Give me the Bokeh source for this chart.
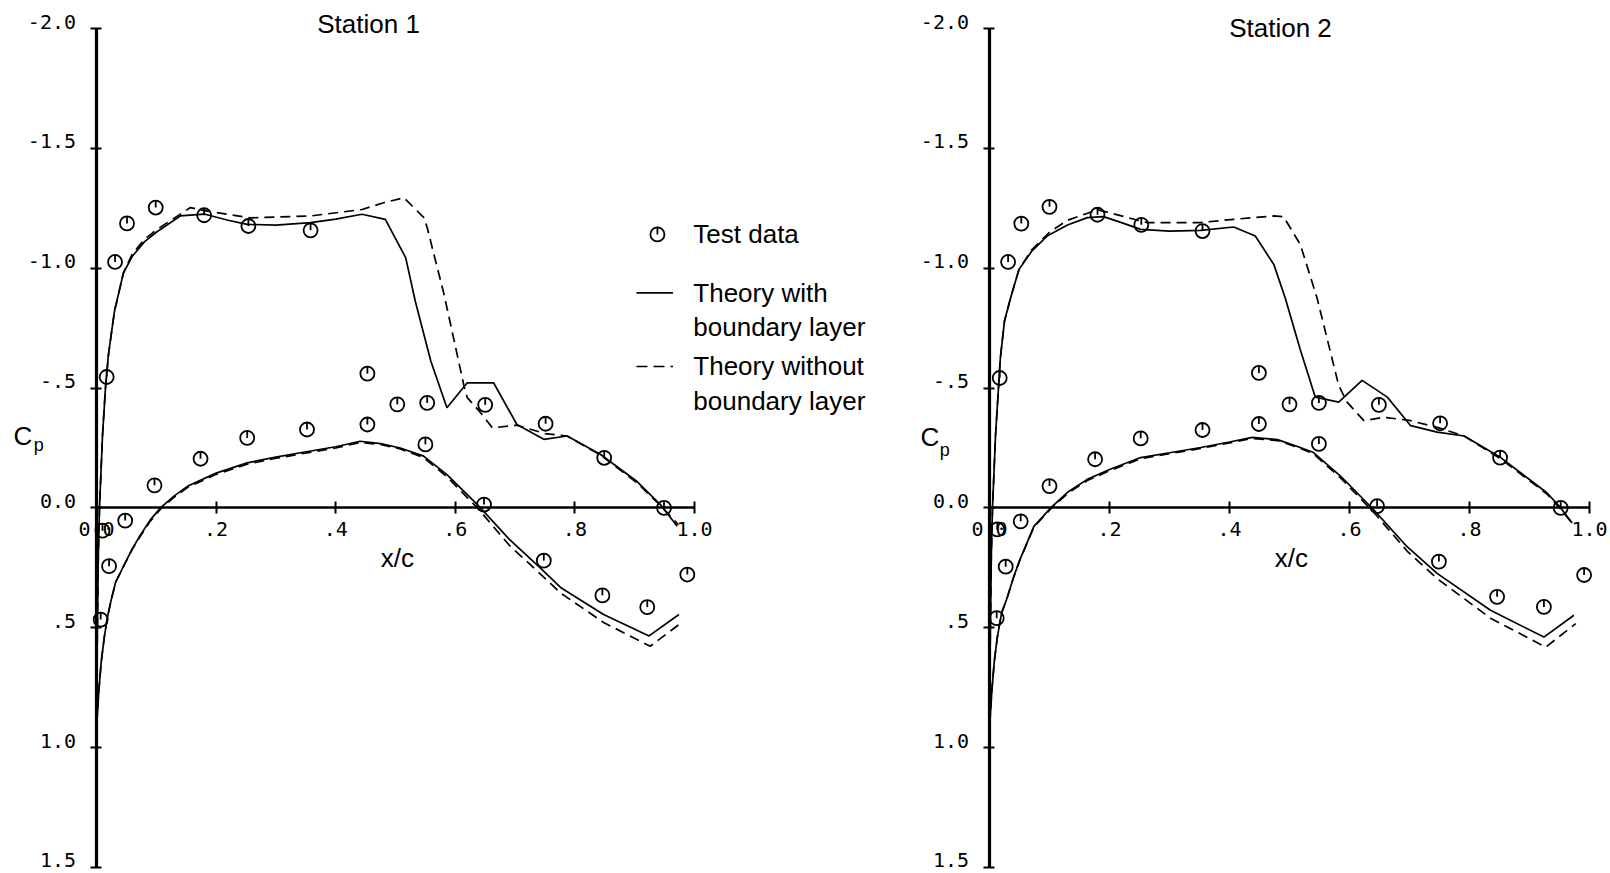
import numpy as np
from bokeh.plotting import figure
from bokeh.models import Range1d, LinearAxis, FixedTicker, Label
from bokeh.layouts import row
from bokeh.core.properties import value
from bokeh.embed import file_html
from bokeh.resources import INLINE

# ---------------- data ----------------
x_ticks = [0.0, 0.2, 0.4, 0.6, 0.8, 1.0]
x_tick_labels = ["0.0", ".2", ".4", ".6", ".8", "1.0"]
cp_ticks = [-2.0, -1.5, -1.0, -0.5, 0.0, 0.5, 1.0, 1.5]
cp_tick_labels = ["-2.0", "-1.5", "-1.0", "-.5", "0.0", ".5", "1.0", "1.5"]
titles = ["Station 1", "Station 2"]
legend_labels = [["Test data"], ["Theory with", "boundary layer"], ["Theory without", "boundary layer"]]
x_label = "x/c"

# Station 1 - test data
s1_test_upper_x = [0.017, 0.031, 0.051, 0.099, 0.180, 0.254, 0.358, 0.453, 0.503, 0.553, 0.650, 0.751, 0.849, 0.949]
s1_test_upper_cp = [-0.546, -1.026, -1.187, -1.253, -1.221, -1.176, -1.158, -0.560, -0.432, -0.438, -0.430, -0.351, -0.209, 0.000]
s1_test_lower_x = [0.007, 0.010, 0.021, 0.048, 0.097, 0.174, 0.252, 0.352, 0.453, 0.550, 0.648, 0.748, 0.846, 0.921, 0.988]
s1_test_lower_cp = [0.466, 0.095, 0.243, 0.053, -0.094, -0.205, -0.292, -0.327, -0.348, -0.265, -0.014, 0.220, 0.365, 0.414, 0.278]

# Station 1 - theory with boundary layer
s1_bl_upper_x = [0.000, 0.001, 0.003, 0.005, 0.010, 0.015, 0.020, 0.030, 0.045, 0.060, 0.080, 0.100, 0.140, 0.180, 0.220, 0.252, 0.300, 0.358, 0.400, 0.444, 0.483, 0.517, 0.533, 0.559, 0.586, 0.620, 0.664, 0.703, 0.748, 0.787, 0.843, 0.904, 0.943, 0.971]
s1_bl_upper_cp = [0.970, 0.600, 0.200, 0.000, -0.300, -0.500, -0.640, -0.820, -0.980, -1.050, -1.110, -1.150, -1.218, -1.226, -1.200, -1.183, -1.180, -1.190, -1.205, -1.225, -1.204, -1.044, -0.863, -0.613, -0.418, -0.522, -0.522, -0.348, -0.286, -0.300, -0.223, -0.110, -0.014, 0.077]
s1_bl_lower_x = [0.000, 0.001, 0.004, 0.008, 0.013, 0.018, 0.024, 0.032, 0.046, 0.060, 0.074, 0.090, 0.107, 0.130, 0.152, 0.200, 0.252, 0.300, 0.341, 0.400, 0.441, 0.475, 0.508, 0.547, 0.586, 0.637, 0.690, 0.742, 0.776, 0.848, 0.924, 0.974]
s1_bl_lower_cp = [0.970, 0.880, 0.760, 0.640, 0.540, 0.460, 0.390, 0.310, 0.240, 0.170, 0.111, 0.050, 0.000, -0.050, -0.090, -0.145, -0.188, -0.212, -0.230, -0.255, -0.278, -0.268, -0.250, -0.216, -0.139, -0.014, 0.130, 0.250, 0.332, 0.445, 0.534, 0.445]

# Station 1 - theory without boundary layer
s1_nobl_upper_x = [0.000, 0.001, 0.003, 0.005, 0.010, 0.015, 0.020, 0.030, 0.045, 0.060, 0.080, 0.100, 0.157, 0.180, 0.258, 0.358, 0.444, 0.480, 0.514, 0.547, 0.553, 0.564, 0.581, 0.614, 0.620, 0.640, 0.662, 0.703, 0.750, 0.787, 0.843, 0.904, 0.943, 0.973]
s1_nobl_upper_cp = [0.970, 0.600, 0.200, 0.000, -0.300, -0.500, -0.640, -0.820, -0.980, -1.060, -1.120, -1.160, -1.253, -1.240, -1.210, -1.218, -1.245, -1.273, -1.294, -1.212, -1.170, -1.060, -0.893, -0.515, -0.460, -0.404, -0.334, -0.345, -0.310, -0.300, -0.220, -0.105, -0.010, 0.070]
s1_nobl_lower_x = [0.000, 0.001, 0.004, 0.008, 0.013, 0.018, 0.024, 0.032, 0.046, 0.060, 0.074, 0.090, 0.107, 0.130, 0.152, 0.200, 0.252, 0.300, 0.341, 0.400, 0.441, 0.475, 0.508, 0.547, 0.586, 0.637, 0.690, 0.742, 0.776, 0.848, 0.926, 0.974]
s1_nobl_lower_cp = [0.970, 0.880, 0.760, 0.640, 0.540, 0.460, 0.390, 0.310, 0.240, 0.172, 0.115, 0.055, 0.005, -0.045, -0.085, -0.140, -0.182, -0.207, -0.225, -0.250, -0.273, -0.265, -0.246, -0.210, -0.130, 0.000, 0.155, 0.275, 0.355, 0.478, 0.577, 0.487]

# Station 2 - test data
s2_test_upper_x = [0.017, 0.031, 0.053, 0.100, 0.180, 0.253, 0.355, 0.449, 0.500, 0.549, 0.649, 0.751, 0.851, 0.952]
s2_test_upper_cp = [-0.542, -1.026, -1.186, -1.256, -1.223, -1.181, -1.155, -0.563, -0.432, -0.438, -0.430, -0.353, -0.210, 0.000]
s2_test_lower_x = [0.012, 0.013, 0.027, 0.052, 0.100, 0.176, 0.252, 0.355, 0.449, 0.549, 0.646, 0.749, 0.846, 0.924, 0.991]
s2_test_lower_cp = [0.460, 0.090, 0.245, 0.056, -0.091, -0.203, -0.290, -0.325, -0.350, -0.267, -0.007, 0.224, 0.371, 0.413, 0.280]

# Station 2 - theory with boundary layer
s2_bl_upper_x = [0.000, 0.001, 0.003, 0.005, 0.010, 0.018, 0.025, 0.035, 0.049, 0.070, 0.096, 0.130, 0.163, 0.190, 0.220, 0.252, 0.300, 0.352, 0.407, 0.443, 0.474, 0.493, 0.518, 0.543, 0.582, 0.621, 0.663, 0.702, 0.746, 0.791, 0.852, 0.929, 0.952, 0.971]
s2_bl_upper_cp = [0.970, 0.600, 0.200, 0.000, -0.300, -0.623, -0.780, -0.875, -0.994, -1.070, -1.134, -1.180, -1.211, -1.215, -1.190, -1.162, -1.155, -1.158, -1.172, -1.134, -1.015, -0.875, -0.660, -0.462, -0.441, -0.532, -0.462, -0.343, -0.316, -0.300, -0.210, -0.063, 0.000, 0.063]
s2_bl_lower_x = [0.000, 0.001, 0.004, 0.008, 0.013, 0.020, 0.030, 0.040, 0.050, 0.074, 0.102, 0.130, 0.163, 0.200, 0.252, 0.300, 0.352, 0.400, 0.438, 0.480, 0.518, 0.540, 0.585, 0.640, 0.696, 0.746, 0.835, 0.924, 0.974]
s2_bl_lower_cp = [0.970, 0.880, 0.760, 0.640, 0.540, 0.440, 0.371, 0.290, 0.220, 0.077, 0.000, -0.065, -0.119, -0.160, -0.210, -0.230, -0.252, -0.275, -0.294, -0.285, -0.252, -0.231, -0.133, 0.007, 0.162, 0.273, 0.427, 0.539, 0.448]

# Station 2 - theory without boundary layer
s2_nobl_upper_x = [0.000, 0.001, 0.003, 0.005, 0.010, 0.018, 0.025, 0.035, 0.049, 0.070, 0.100, 0.130, 0.180, 0.263, 0.350, 0.407, 0.474, 0.490, 0.518, 0.546, 0.582, 0.596, 0.624, 0.657, 0.700, 0.746, 0.791, 0.852, 0.929, 0.952, 0.973]
s2_nobl_upper_cp = [0.970, 0.600, 0.200, 0.000, -0.300, -0.623, -0.780, -0.875, -0.994, -1.075, -1.150, -1.200, -1.244, -1.190, -1.190, -1.204, -1.218, -1.215, -1.099, -0.875, -0.511, -0.441, -0.364, -0.378, -0.365, -0.336, -0.300, -0.205, -0.058, 0.005, 0.070]
s2_nobl_lower_x = [0.000, 0.001, 0.004, 0.008, 0.013, 0.020, 0.030, 0.040, 0.050, 0.074, 0.102, 0.130, 0.163, 0.200, 0.252, 0.300, 0.352, 0.400, 0.438, 0.480, 0.518, 0.540, 0.585, 0.640, 0.696, 0.746, 0.835, 0.927, 0.977]
s2_nobl_lower_cp = [0.970, 0.880, 0.760, 0.640, 0.540, 0.440, 0.371, 0.290, 0.222, 0.080, 0.004, -0.060, -0.114, -0.155, -0.205, -0.226, -0.248, -0.271, -0.290, -0.281, -0.248, -0.226, -0.125, 0.017, 0.180, 0.295, 0.460, 0.581, 0.483]

# ---------------- layout / style ----------------
FIG_H = 872
PX_PER_CP = 239.7          # pixels per unit of Cp
CP0_SY = 507.4             # screen y of Cp = 0
MONO = "DejaVu Sans Mono"
SANS = "Liberation Sans"
MARK_SIZE = 14
TICK_SIZE = 7
TICK_LABEL_RAISE = 7.0     # y tick labels sit just above their ticks (px)


def add_test_points(p, xs, cps):
    p.scatter(xs, cps, marker="circle", size=MARK_SIZE, fill_color=None,
              line_color="black", line_width=1.8)
    # small vertical stroke from the top of each circle to its centre
    p.scatter(xs, [c - (TICK_SIZE / 2.0) / PX_PER_CP for c in cps], marker="dash",
              size=TICK_SIZE, angle=np.pi / 2, line_color="black", line_width=1.8)


def make_station(width, axis_sx, px_per_x, title, title_x, title_cp, c_x, p_x, c_cp, p_cp,
                 test_sets, bl_sets, nobl_sets):
    x0 = -axis_sx / px_per_x
    p = figure(width=width, height=FIG_H, output_backend="svg", toolbar_location=None,
               x_range=Range1d(x0, x0 + width / px_per_x),
               y_range=Range1d((FIG_H - CP0_SY) / PX_PER_CP, -CP0_SY / PX_PER_CP),
               x_axis_location=None, y_axis_location=None,
               min_border=0, min_border_left=0, min_border_right=0,
               min_border_top=0, min_border_bottom=0)
    p.outline_line_color = None
    p.background_fill_color = "white"
    p.border_fill_color = "white"
    p.xgrid.grid_line_color = None
    p.ygrid.grid_line_color = None
    p.xgrid.visible = False
    p.ygrid.visible = False

    yaxis = LinearAxis(fixed_location=0, bounds=(-2.0, 1.5),
                       ticker=FixedTicker(ticks=cp_ticks, minor_ticks=[]),
                       major_label_overrides={t: "" for t in cp_ticks})
    yaxis.axis_line_width = 3.2
    yaxis.major_tick_in = 5
    yaxis.major_tick_out = 6
    yaxis.major_tick_line_width = 2
    yaxis.minor_tick_in = 0
    yaxis.minor_tick_out = 0
    yaxis.major_label_text_font_size = "1px"
    p.add_layout(yaxis, "left")

    # y tick labels: right-aligned, sitting just above their ticks
    lab_x = -20.5 / px_per_x
    p.text(x=[lab_x] * len(cp_ticks),
           y=[t - TICK_LABEL_RAISE / PX_PER_CP for t in cp_ticks], text=cp_tick_labels,
           text_align="right", text_baseline="middle",
           text_font=value(MONO), text_font_size="20px", text_color="black")

    xaxis = LinearAxis(fixed_location=0, bounds=(0.0, 1.0),
                       ticker=FixedTicker(ticks=x_ticks, minor_ticks=[]),
                       major_label_overrides={t: l for t, l in zip(x_ticks, x_tick_labels)})
    xaxis.axis_line_width = 2.6
    xaxis.major_tick_in = 6
    xaxis.major_tick_out = 6
    xaxis.major_tick_line_width = 2
    xaxis.minor_tick_in = 0
    xaxis.minor_tick_out = 0
    xaxis.major_label_standoff = 8
    xaxis.major_label_text_font = MONO
    xaxis.major_label_text_font_size = "20px"
    xaxis.major_label_text_color = "black"
    p.add_layout(xaxis, "below")

    for xs, cps in bl_sets:
        p.line(xs, cps, line_color="black", line_width=1.7)
    for xs, cps in nobl_sets:
        p.line(xs, cps, line_color="black", line_width=1.7, line_dash="10 6")
    for xs, cps in test_sets:
        add_test_points(p, xs, cps)

    def lab(x, y, text, size, align="left"):
        p.add_layout(Label(x=x, y=y, text=text, text_align=align, text_baseline="middle",
                           text_font=SANS, text_font_size=size, text_color="black"))

    lab(title_x, title_cp, title, "26px", "center")
    lab(0.503, 0.207, x_label, "26px", "center")
    lab(c_x, c_cp, "C", "26px")
    lab(p_x, p_cp, "p", "18px")
    return p


W1, W2 = 895, 715
p1 = make_station(W1, 96.0, 598.0, titles[0], 0.455, -2.017, -0.139, -0.105, -0.302, -0.262,
                  [(s1_test_upper_x, s1_test_upper_cp), (s1_test_lower_x, s1_test_lower_cp)],
                  [(s1_bl_upper_x, s1_bl_upper_cp), (s1_bl_lower_x, s1_bl_lower_cp)],
                  [(s1_nobl_upper_x, s1_nobl_upper_cp), (s1_nobl_lower_x, s1_nobl_lower_cp)])
p2 = make_station(W2, 989.0 - W1, 600.0, titles[1], 0.485, -2.004, -0.115, -0.083, -0.295, -0.242,
                  [(s2_test_upper_x, s2_test_upper_cp), (s2_test_lower_x, s2_test_lower_cp)],
                  [(s2_bl_upper_x, s2_bl_upper_cp), (s2_bl_lower_x, s2_bl_lower_cp)],
                  [(s2_nobl_upper_x, s2_nobl_upper_cp), (s2_nobl_lower_x, s2_nobl_lower_cp)])

# ---------------- legend (drawn in Station 1 panel) ----------------
key_x0, key_x1, key_mark_x, text_x = 0.903, 0.964, 0.938, 0.998
row_cp = [-1.141, -0.897, -0.590]
line_gap = 0.142
add_test_points(p1, [key_mark_x], [row_cp[0]])
p1.line([key_x0, key_x1], [row_cp[1], row_cp[1]], line_color="black", line_width=1.7)
p1.line([key_x0, key_x1], [row_cp[2], row_cp[2]], line_color="black", line_width=1.7,
        line_dash="11 6")
for cp0, lines in zip(row_cp, legend_labels):
    for k, txt in enumerate(lines):
        p1.add_layout(Label(x=text_x, y=cp0 + k * line_gap, text=txt, text_align="left",
                            text_baseline="middle", text_font=SANS, text_font_size="26px",
                            text_color="black"))

layout = row(p1, p2)
open("out.html", "w").write(file_html(layout, INLINE, title="Cp distributions"))
